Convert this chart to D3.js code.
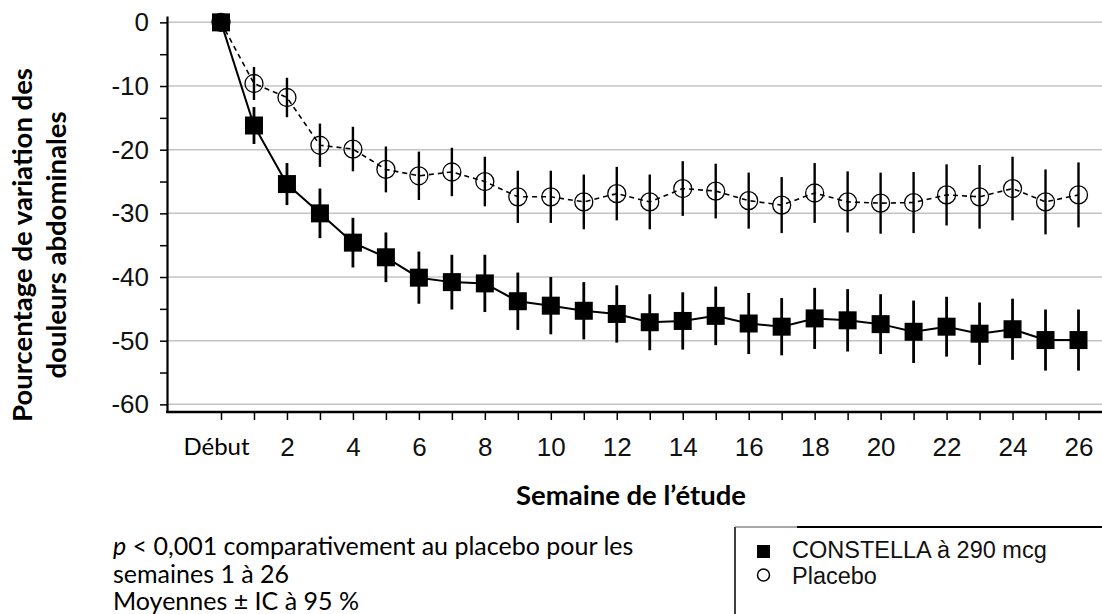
<!DOCTYPE html>
<html>
<head>
<meta charset="utf-8">
<script src="https://cdn.jsdelivr.net/npm/d3@7/dist/d3.min.js"></script>
<style>
  body { margin: 0; background: #fff; }
  svg { display: block; }
</style>
</head>
<body>
<svg width="1102" height="614"></svg>
<script>
// ---- data ----
var weeks = [0, 1, 2, 3, 4, 5, 6, 7, 8, 9, 10, 11, 12, 13, 14, 15, 16, 17, 18, 19, 20, 21, 22, 23, 24, 25, 26];

var constella   = [0, -16.2, -25.4, -30.0, -34.6, -36.9, -40.1, -40.8, -41.0, -43.8, -44.5, -45.3, -45.8, -47.1,
                   -46.9, -46.1, -47.3, -47.8, -46.5, -46.8, -47.4, -48.6, -47.8, -48.9, -48.2, -49.9, -49.9];
var constellaCI = [1.4, 2.9, 3.3, 3.9, 3.9, 3.9, 4.1, 4.3, 4.5, 4.5, 4.5, 4.5, 4.5, 4.4,
                   4.5, 4.6, 4.8, 4.5, 4.8, 4.9, 4.7, 4.9, 4.7, 4.9, 4.8, 4.8, 4.8];

var placebo   = [0, -9.6, -11.8, -19.3, -19.9, -23.1, -24.1, -23.5, -25.0, -27.4, -27.4, -28.2, -26.9, -28.2,
                 -26.1, -26.5, -28.0, -28.7, -26.8, -28.2, -28.4, -28.3, -27.1, -27.4, -26.1, -28.2, -27.1];
var placeboCI = [0, 2.6, 3.1, 3.4, 3.5, 3.6, 3.8, 3.8, 3.9, 4.1, 4.1, 4.3, 4.2, 4.3,
                 4.3, 4.3, 4.4, 4.4, 4.7, 4.8, 4.8, 4.8, 4.8, 5.0, 5.0, 5.1, 5.1];

var yTicks = [0, -5, -10, -15, -20, -25, -30, -35, -40, -45, -50, -55, -60];
var yGrid = [0, -10, -20, -30, -40, -50, -60];
var xLabels = {0: "Début", 2: "2", 4: "4", 6: "6", 8: "8", 10: "10", 12: "12", 14: "14",
               16: "16", 18: "18", 20: "20", 22: "22", 24: "24", 26: "26"};

var seriesNames = ["CONSTELLA à 290 mcg", "Placebo"];
var notes = ["< 0,001 comparativement au placebo pour les", "semaines 1 à 26", "Moyennes ± IC à 95 %"];

// ---- layout ----
var svg = d3.select("svg"),
    width = +svg.attr("width"),
    height = +svg.attr("height");

var axisX = 167, axisY = 412;
var calibri = "Lato, 'Open Sans', sans-serif";
var arial = "'Liberation Sans', Arial, sans-serif";

var x = d3.scaleLinear().domain([0, 26]).range([221, 1078.5]);
var y = d3.scaleLinear().domain([-61.2, 1]).range([axisY, 16]);

// gridlines
svg.append("g")
  .selectAll("line")
  .data(yGrid)
  .enter().append("line")
  .attr("x1", axisX).attr("x2", width)
  .attr("y1", d => y(d)).attr("y2", d => y(d))
  .attr("stroke", "#c4c4c4")
  .attr("stroke-width", 1.5);

// y axis
var gy = svg.append("g")
  .attr("transform", "translate(" + axisX + ",0)")
  .call(d3.axisLeft(y)
    .tickValues(yTicks)
    .tickSize(7)
    .tickSizeOuter(0)
    .tickPadding(11)
    .tickFormat(d => d % 10 === 0 ? d : ""));
gy.select(".domain").attr("stroke-width", 2.2);
gy.selectAll(".tick line").attr("stroke-width", 1.5);
gy.selectAll("text")
  .attr("font-family", arial)
  .attr("font-size", "26px")
  .attr("fill", "#111");

// x axis
var gx = svg.append("g")
  .attr("transform", "translate(0," + axisY + ")")
  .call(d3.axisBottom(x)
    .tickValues(weeks)
    .tickSize(8)
    .tickSizeOuter(0)
    .tickPadding(18)
    .tickFormat(d => xLabels[d] || ""));
gx.select(".domain").remove();
gx.selectAll(".tick line").attr("stroke-width", 1.5);
gx.selectAll("text")
  .attr("font-family", arial)
  .attr("font-size", "26px")
  .attr("fill", "#111");
gx.selectAll(".tick text")
  .filter(d => d === 0)
  .attr("font-family", calibri)
  .attr("font-size", "24px")
  .attr("dx", "-5")
  .attr("fill", "#000");
svg.append("line")
  .attr("x1", axisX - 1).attr("x2", width)
  .attr("y1", axisY).attr("y2", axisY)
  .attr("stroke", "#000")
  .attr("stroke-width", 2.6);

// axis titles
svg.append("text")
  .attr("x", 631).attr("y", 505)
  .attr("text-anchor", "middle")
  .attr("font-family", calibri)
  .attr("font-weight", "bold")
  .attr("font-size", "27.5px")
  .text("Semaine de l’étude");

var yTitle = svg.append("text")
  .attr("transform", "translate(0,245) rotate(-90)")
  .attr("text-anchor", "middle")
  .attr("font-family", calibri)
  .attr("font-weight", "bold")
  .attr("font-size", "27.5px");
yTitle.append("tspan").attr("x", 0).attr("y", 32).text("Pourcentage de variation des");
yTitle.append("tspan").attr("x", 0).attr("y", 66).text("douleurs abdominales");

// ---- placebo: dashed line, CI bars, open circles ----
var line = d3.line().x((d, i) => x(weeks[i])).y(d => y(d));

svg.append("path")
  .datum(placebo)
  .attr("d", line)
  .attr("fill", "none")
  .attr("stroke", "#000")
  .attr("stroke-width", 1.6)
  .attr("stroke-dasharray", "5,4");

svg.append("g")
  .selectAll("line")
  .data(placebo)
  .enter().append("line")
  .attr("x1", (d, i) => x(weeks[i])).attr("x2", (d, i) => x(weeks[i]))
  .attr("y1", (d, i) => y(d + placeboCI[i]))
  .attr("y2", (d, i) => y(d - placeboCI[i]))
  .attr("stroke", "#000")
  .attr("stroke-width", 2.4);

svg.append("g")
  .selectAll("circle")
  .data(placebo)
  .enter().append("circle")
  .attr("cx", (d, i) => x(weeks[i]))
  .attr("cy", d => y(d))
  .attr("r", 9)
  .attr("fill", "none")
  .attr("stroke", "#000")
  .attr("stroke-width", 1.3);

// ---- constella: solid line, CI bars, filled squares ----
svg.append("path")
  .datum(constella)
  .attr("d", line)
  .attr("fill", "none")
  .attr("stroke", "#000")
  .attr("stroke-width", 2);

svg.append("g")
  .selectAll("line")
  .data(constella)
  .enter().append("line")
  .attr("x1", (d, i) => x(weeks[i])).attr("x2", (d, i) => x(weeks[i]))
  .attr("y1", (d, i) => y(d + constellaCI[i]))
  .attr("y2", (d, i) => y(d - constellaCI[i]))
  .attr("stroke", "#000")
  .attr("stroke-width", 2.8);

var sq = 18;
svg.append("g")
  .selectAll("rect")
  .data(constella)
  .enter().append("rect")
  .attr("x", (d, i) => x(weeks[i]) - sq / 2)
  .attr("y", d => y(d) - sq / 2)
  .attr("width", sq).attr("height", sq)
  .attr("fill", "#000");

// ---- notes under the chart ----
var noteText = svg.append("text")
  .attr("font-family", calibri)
  .attr("font-size", "25px")
  .attr("fill", "#000");
var n1 = noteText.append("tspan").attr("x", 113).attr("y", 555);
n1.append("tspan").attr("font-style", "italic").text("p");
n1.append("tspan").text(" " + notes[0]);
noteText.append("tspan").attr("x", 113).attr("y", 583).text(notes[1]);
noteText.append("tspan").attr("x", 113).attr("y", 610).text(notes[2]);

// ---- legend ----
var lg = svg.append("g").attr("transform", "translate(735,527)");
lg.append("line").attr("x1", 0).attr("x2", 0).attr("y1", 0).attr("y2", 100)
  .attr("stroke", "#000").attr("stroke-width", 1.5);
lg.append("line").attr("x1", 0).attr("x2", 62).attr("y1", 0).attr("y2", 0)
  .attr("stroke", "#555").attr("stroke-width", 1);
lg.append("line").attr("x1", 62).attr("x2", 400).attr("y1", 0).attr("y2", 0)
  .attr("stroke", "#000").attr("stroke-width", 2);

lg.append("rect").attr("x", 22).attr("y", 18).attr("width", 13).attr("height", 13).attr("fill", "#000");
lg.append("circle").attr("cx", 28.5).attr("cy", 48).attr("r", 6)
  .attr("fill", "none").attr("stroke", "#000").attr("stroke-width", 1.5);

lg.selectAll("text.item")
  .data(seriesNames)
  .enter().append("text")
  .attr("class", "item")
  .attr("x", 57)
  .attr("y", (d, i) => 31 + i * 26)
  .attr("font-family", arial)
  .attr("font-size", "23.5px")
  .attr("fill", "#111")
  .text(d => d);
</script>
</body>
</html>
